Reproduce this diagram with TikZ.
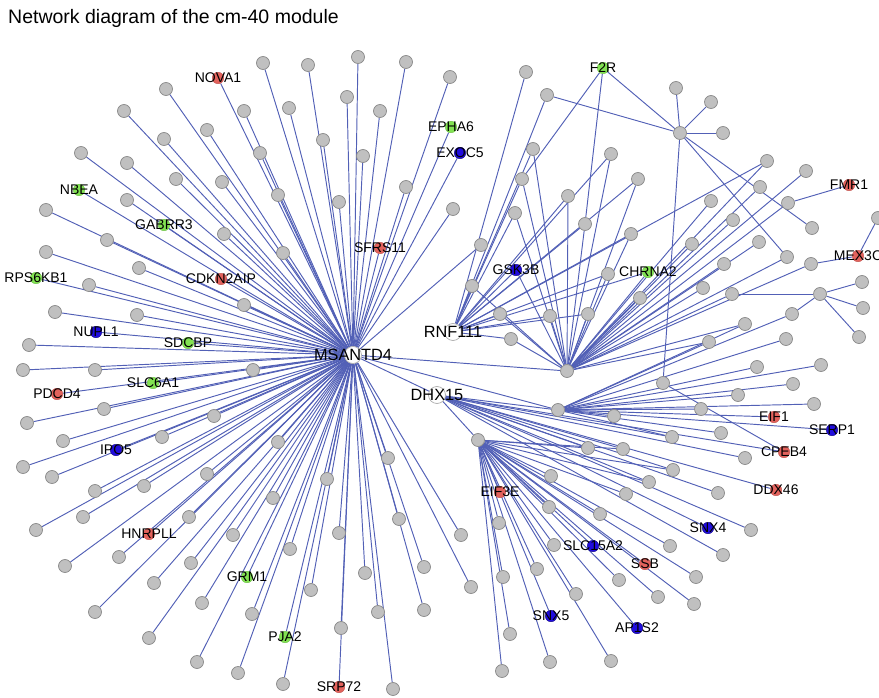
\documentclass[tikz,border=0pt]{standalone}
\usepackage{fontspec}
\setmainfont{Liberation Sans}
\usetikzlibrary{backgrounds}
\definecolor{edgeblue}{RGB}{82,96,182}
\definecolor{nodegray}{RGB}{192,192,192}
\definecolor{rimgray}{RGB}{138,138,138}
\definecolor{genered}{RGB}{226,98,92}
\definecolor{genegreen}{RGB}{130,226,82}
\definecolor{geneblue}{RGB}{32,12,222}

\begin{document}
\begin{tikzpicture}[x=1pt, y=-1pt,
    leaf/.style={circle, fill=nodegray, draw=rimgray, line width=0.7pt, inner sep=0pt, minimum size=13pt},
    hub/.style={circle, fill=white, draw=rimgray!70, line width=0.7pt, inner sep=0pt, minimum size=17pt},
    redgene/.style={circle, fill=genered, draw=genered!85!black, line width=0.4pt, inner sep=0pt, minimum size=11.5pt},
    greengene/.style={circle, fill=genegreen, draw=genegreen!85!black, line width=0.4pt, inner sep=0pt, minimum size=11.5pt},
    bluegene/.style={circle, fill=geneblue, draw=geneblue!60!black, line width=0.4pt, inner sep=0pt, minimum size=11.5pt},
    every label/.style={font=\fontsize{14}{16}\selectfont, text=black, inner sep=0pt},
    hublabel/.style={font=\fontsize{16.3}{18}\selectfont},
    link/.style={edgeblue, line width=0.95pt}]

				\useasboundingbox (0,0) rectangle (879,698);

				\node[anchor=base west, inner sep=0pt, font=\fontsize{19.5}{22}\selectfont] (title) at (8,24) {Network diagram of the cm-40 module};

				\node[hub] (msantd4) at (353,355) [label={[hublabel]center:{MSANTD4}}] {};
				\node[hub] (rnf111) at (453,332) [label={[hublabel]center:{RNF111}}] {};
				\node[hub] (dhx15) at (437,395) [label={[hublabel]center:{DHX15}}] {};

				\node[leaf] (hubA) at (567,371) {};
				\node[leaf] (hubB) at (558,410) {};
				\node[leaf] (hubC) at (478,440) {};
				\node[leaf] (hubD) at (680,133) {};
				\node[leaf] (hubE) at (820,294) {};

				\foreach \name/\x/\y in {m1/263/63, m2/166/89, m3/289/108, m4/124/111, m5/244/111, m6/207/130,
					m7/164/139, m8/260/153, m9/81/153, m10/127/163, m11/176/179, m12/222/182, m13/278/195,
					m14/127/200, m15/46/210, m16/224/234, m17/107/240, m18/283/253, m19/46/252, m20/139/268,
					m21/308/65, m22/358/57, m23/406/62, m24/450/77, m25/347/97, m26/380/111, m27/323/140,
					m28/363/156, m29/406/187, m30/339/202, m31/453/209, m32/481/245, m33/89/285, m34/244/305,
					m35/55/312, m36/137/315, m37/29/345, m38/23/370, m39/95/370, m40/253/370, m41/104/409,
					m42/214/416, m43/27/423, m44/162/437, m45/63/441, m46/278/442, m47/23/467, m48/52/477,
					m49/207/474, m50/95/491, m51/144/486, m52/273/498, m53/83/517, m54/189/517, m55/36/530,
					m56/233/535, m57/290/549, m58/119/557, m59/65/566, m60/191/563, m61/154/583, m62/202/603,
					m63/95/612, m64/252/614, m65/149/638, m66/197/662, m67/238/673, m68/283/684, m69/327/479,
					m70/388/458, m71/399/519, m72/339/533, m73/461/535, m74/365/573, m75/424/567, m76/471/587,
					m77/311/590, m78/378/612, m79/424/610, m80/341/628, m81/393/689}
					\node[leaf] (\name) at (\x,\y) {};

				\foreach \name/\x/\y in {c1/526/72, c2/547/95, c3/533/149, c4/522/179, c5/568/196, c6/515/213,
					c7/585/224, c8/472/286, c9/500/314, c10/550/316, c11/511/339, c12/588/314, c13/608/274,
					c14/611/154, c15/638/179, c16/631/234, c17/767/161, c18/806/171, c19/760/187, c20/711/201,
					c21/788/203, c22/733/220, c23/812/228, c24/878/218, c25/692/244, c26/759/242, c27/787/257,
					c28/724/264, c29/811/264, c30/703/288, c31/732/294, c32/640/298, c33/792/314, c34/745/324,
					c35/709/342, c36/786/339, c37/757/367, c38/821/365, c39/663/383, c40/793/384, c41/738/395,
					c42/814/404, c43/701/409, c44/614/416, c45/721/433, c46/862/282, c47/863/308, c48/859/337,
					d1/676/88, d2/711/102, d3/723/133}
					\node[leaf] (\name) at (\x,\y) {};

				\foreach \name/\x/\y in {s1/588/448, s2/623/449, s3/672/437, s4/745/458, s5/673/470, s6/649/482,
					s7/718/493, s8/626/494, s9/600/514, s10/751/530, s11/670/546, s12/723/555, s13/696/577,
					s14/619/580, s15/576/594, s16/658/597, s17/694/604, s18/611/661, s19/551/476, s20/549/507,
					s21/499/523, s22/554/545, s23/537/569, s24/503/577, s26/510/634, s27/550/662, s28/502/671}
					\node[leaf] (\name) at (\x,\y) {};

				\node[redgene] (nova1) at (218,78) [label=center:{NOVA1}] {};
				\node[greengene] (nbea) at (79,190) [label=center:{NBEA}] {};
				\node[greengene] (gabrr3) at (164,225) [label=center:{GABRR3}] {};
				\node[greengene] (epha6) at (451,127) [label=center:{EPHA6}] {};
				\node[bluegene] (exoc5) at (460,153) [label=center:{EXOC5}] {};
				\node[redgene] (sfrs11) at (380,248) [label=center:{SFRS11}] {};
				\node[greengene] (f2r) at (603,68) [label=center:{F2R}] {};
				\node[redgene] (fmr1) at (849,185) [label=center:{FMR1}] {};
				\node[redgene] (mex3c) at (858,256) [label=center:{MEX3C}] {};
				\node[bluegene] (gsk3b) at (516,270) [label=center:{GSK3B}] {};
				\node[greengene] (chrna2) at (648,272) [label=center:{CHRNA2}] {};
				\node[greengene] (rps6kb1) at (36,278) [label=center:{RPS6KB1}] {};
				\node[redgene] (cdkn2aip) at (221,279) [label=center:{CDKN2AIP}] {};
				\node[bluegene] (nupl1) at (96,332) [label=center:{NUPL1}] {};
				\node[greengene] (sdcbp) at (188,343) [label=center:{SDCBP}] {};
				\node[greengene] (slc6a1) at (153,383) [label=center:{SLC6A1}] {};
				\node[redgene] (pdcd4) at (57,394) [label=center:{PDCD4}] {};
				\node[bluegene] (ipo5) at (116,450) [label=center:{IPO5}] {};
				\node[redgene] (eif1) at (774,417) [label=center:{EIF1}] {};
				\node[bluegene] (serp1) at (832,430) [label=center:{SERP1}] {};
				\node[redgene] (cpeb4) at (784,452) [label=center:{CPEB4}] {};
				\node[redgene] (ddx46) at (776,490) [label=center:{DDX46}] {};
				\node[redgene] (eif3e) at (500,492) [label=center:{EIF3E}] {};
				\node[redgene] (hnrpll) at (149,534) [label=center:{HNRPLL}] {};
				\node[bluegene] (snx4) at (708,528) [label=center:{SNX4}] {};
				\node[bluegene] (slc15a2) at (593,546) [label=center:{SLC15A2}] {};
				\node[redgene] (ssb) at (645,564) [label=center:{SSB}] {};
				\node[greengene] (grm1) at (247,577) [label=center:{GRM1}] {};
				\node[bluegene] (snx5) at (551,616) [label=center:{SNX5}] {};
				\node[bluegene] (ap1s2) at (637,628) [label=center:{AP1S2}] {};
				\node[greengene] (pja2) at (285,637) [label=center:{PJA2}] {};
				\node[redgene] (srp72) at (339,687) [label=center:{SRP72}] {};

				\begin{scope}[on background layer]
					\foreach \i in {1,...,81} \draw[link] (msantd4) -- (m\i);
					\foreach \leaf in {nova1, nbea, gabrr3, epha6, exoc5, sfrs11, rps6kb1, cdkn2aip, nupl1, sdcbp,
						slc6a1, pdcd4, ipo5, hnrpll, grm1, pja2, srp72, hubA, hubB, dhx15}
						\draw[link] (msantd4) -- (\leaf);
					\foreach \leaf in {c1, c2, c3, c4, c5, c6, c7, c8, c9, c10, c11, c12, c13, c14, c15, c16, c17, gsk3b, chrna2}
						\draw[link] (rnf111) -- (\leaf);
					\foreach \leaf in {c3, c4, c5, c6, c7, c8, c9, c10, c11, c12, c13, c14, c15, c16, c17, c18, c19, c20,
						c21, c22, c25, c26, c27, c28, c29, c30, c31, c32, c34, c35, gsk3b, chrna2}
						\draw[link] (hubA) -- (\leaf);
					\foreach \leaf in {c33, c34, c35, c36, c37, c38, c40, c41, c42, c43, c44, c45, s3, eif1, serp1}
						\draw[link] (hubB) -- (\leaf);
					\foreach \leaf in {hubB, hubC, s1, s2, s3, s4, s5, s6, s7, s10, s12, cpeb4, ddx46, snx4}
						\draw[link] (dhx15) -- (\leaf);
					\foreach \leaf in {s1, s2, s5, s6, s8, s9, s11, s13, s14, s15, s16, s17, s18, s19, s20, s21, s22, s23,
						s24, s26, s27, s28, eif3e, slc15a2, ssb, ap1s2, snx5}
						\draw[link] (hubC) -- (\leaf);
					\foreach \leaf in {f2r, c2, d1, d2, d3, c23, c27, c39}
						\draw[link] (hubD) -- (\leaf);
					\foreach \leaf in {c31, c33, c46, c47, c48}
						\draw[link] (hubE) -- (\leaf);
					\draw[link] (f2r) -- (c4);
					\draw[link] (f2r) -- (c7);
					\draw[link] (fmr1) -- (c21);
					\draw[link] (mex3c) -- (c24);
					\draw[link] (mex3c) -- (c29);
					\draw[link] (c39) -- (cpeb4);
				\end{scope}

			\end{tikzpicture}
\end{document}
